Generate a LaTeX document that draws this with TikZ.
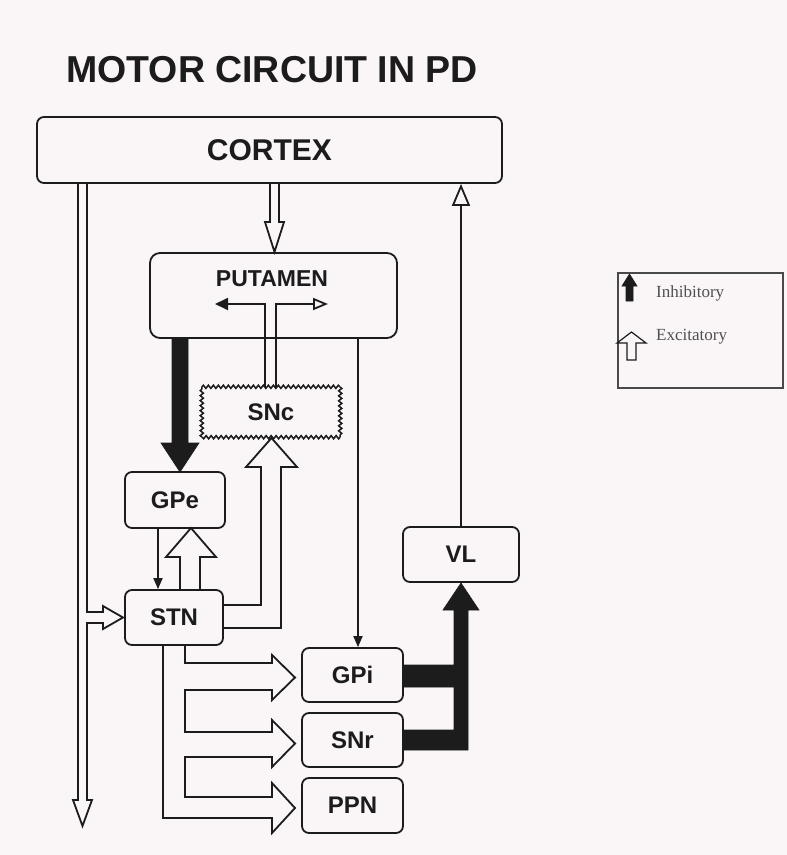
\documentclass[tikz,border=0pt]{standalone}
\usepackage{fontspec}
\setmainfont{Liberation Sans}
\newfontfamily\legfont{Liberation Serif}
\usetikzlibrary{arrows.meta,decorations.pathmorphing,calc}
\definecolor{ink}{HTML}{1C1C1C}
\definecolor{bg}{HTML}{FAF6F8}
\definecolor{legtext}{HTML}{505050}
\begin{document}
\begin{tikzpicture}[x=1pt,y=-1pt,
  box/.style={draw=ink, line width=1.8pt, rounded corners=7pt, inner sep=0pt,
    font=\bfseries\fontsize{24}{28}\selectfont, text=ink},
  lbl/.style={inner sep=0pt, font=\bfseries\fontsize{24}{28}\selectfont, text=ink},
  conn/.style={draw=ink, line width=1.8pt, line join=miter},
  wavy/.style={draw=ink, line width=1.5pt, decorate,
    decoration={snake, amplitude=1.6pt, segment length=5pt}},
  blk/.style={fill=ink, draw=ink, line width=0.6pt, line join=miter},
  thinarrow/.style={conn, -{Triangle[length=11pt,width=9pt]}},
  legtxt/.style={anchor=west, inner sep=0pt, font=\legfont\fontsize{17}{19}\selectfont, text=legtext}]
\fill[bg] (0,0) rectangle (787,855);
\useasboundingbox (0,0) rectangle (787,855);

% title
\node[anchor=base west, inner sep=0pt, text=ink, font=\bfseries\fontsize{37.5}{40}\selectfont] (title) at (66,82) {MOTOR CIRCUIT IN PD};

% boxes
\node[box, minimum width=465pt, minimum height=66pt, font=\bfseries\fontsize{30}{34}\selectfont] (cortex) at (269.5,150) {CORTEX};
\node[box, minimum width=247pt, minimum height=85pt, rounded corners=10pt] (putamen) at (273.5,295.5) {};
\node[lbl, font=\bfseries\fontsize{23}{26}\selectfont] (putlab) at (272,279) {PUTAMEN};
\node[inner sep=0pt, minimum width=138pt, minimum height=50pt, text=ink,
  font=\bfseries\fontsize{24}{28}\selectfont] (snc) at (271,412) {SNc};
\draw[wavy] (snc.north west) -- (snc.north east);
\draw[wavy] (snc.north east) -- (snc.south east);
\draw[wavy] (snc.south east) -- (snc.south west);
\draw[wavy] (snc.south west) -- (snc.north west);
\node[box, minimum width=100pt, minimum height=56pt] (gpe) at (175,500) {GPe};
\node[box, minimum width=98pt, minimum height=55pt] (stn) at (174,617.5) {STN};
\node[box, minimum width=101pt, minimum height=54pt] (gpi) at (352.5,675) {GPi};
\node[box, minimum width=101pt, minimum height=54pt] (snr) at (352.5,740) {SNr};
\node[box, minimum width=101pt, minimum height=55pt] (ppn) at (352.5,805.5) {PPN};
\node[box, minimum width=116pt, minimum height=55pt] (vl) at (461,554.5) {VL};

% cortex -> brainstem (left double line) with branch to STN
\draw[conn] (87,183) -- (87,612) -- (103,612) -- (103,606) -- (123,617.5)
  -- (103,629) -- (103,623) -- (87,623) -- (87,800) -- (92,800) -- (82.5,826)
  -- (73,800) -- (78,800) -- (78,183);

% cortex -> putamen
\draw[conn] (270,183) -- (270,222) -- (265,222) -- (274.5,252) -- (284,222) -- (279,222) -- (279,183);

% VL -> cortex
\draw[conn, -{Triangle[open,length=22pt,width=18pt]}] (vl.north) -- (vl.north |- cortex.south);

% putamen -> GPi (thin)
\draw[thinarrow] ($(putamen.south)+(84.5,0)$) -- ($(gpi.north)+(5.5,0)$);

% SNc -> putamen T
\draw[conn, -{Triangle[length=13pt,width=12pt]}] ($(snc.north)+(-6,0)$) -- (265,304) -- (215,304);
\draw[conn, -{Triangle[open,length=15pt,width=12pt]}] ($(snc.north)+(5,0)$) -- (276,304) -- (328,304);

% putamen -> GPe (thick black)
\path[blk] (172,338) -- (172,443) -- (161,443) -- (180,472) -- (199,443) -- (188,443) -- (188,338) -- cycle;

% GPe -> STN
\draw[thinarrow] ($(gpe.south)+(-17,0)$) -- ($(stn.north)+(-16,0)$);

% STN -> GPe (hollow)
\draw[conn] (180,590) -- (180,557) -- (166,557) -- (191,528) -- (216,557) -- (200,557) -- (200,590);

% STN -> SNc (hollow)
\draw[conn] (223,605) -- (261,605) -- (261,467) -- (246,467) -- (271.5,438)
  -- (297,467) -- (281,467) -- (281,628) -- (223,628);

% STN -> GPi, SNr, PPN (hollow branching)
\draw[conn] (163,645) -- (163,818) -- (272,818) -- (272,833) -- (295,808) -- (272,783)
  -- (272,797) -- (185,797) -- (185,757) -- (272,757) -- (272,767) -- (295,743.5)
  -- (272,720) -- (272,732) -- (185,732) -- (185,690) -- (272,690) -- (272,700)
  -- (295,677.5) -- (272,655) -- (272,663) -- (185,663) -- (185,645);

% GPi/SNr -> VL (thick black)
\path[blk] (403,665) -- (454,665) -- (454,610) -- (443,610) -- (461,583) -- (479,610)
  -- (468,610) -- (468,750) -- (403,750) -- (403,730) -- (454,730) -- (454,687)
  -- (403,687) -- cycle;

% legend
\node[draw=ink!80, line width=1.5pt, minimum width=165pt, minimum height=115pt, inner sep=0pt] (legend) at (700.5,330.5) {};
\path[blk] (626,301) -- (626,286) -- (622,286) -- (629.5,274) -- (637,286) -- (633,286) -- (633,301) -- cycle;
\draw[draw=ink, line width=1.2pt, line join=miter] (627,360) -- (627,343) -- (617,343) -- (631.5,332) -- (646,343) -- (636,343) -- (636,360) -- cycle;
\node[legtxt] (inh) at (656,293) {Inhibitory};
\node[legtxt] (exc) at (656,337) {Excitatory};
\end{tikzpicture}
\end{document}
